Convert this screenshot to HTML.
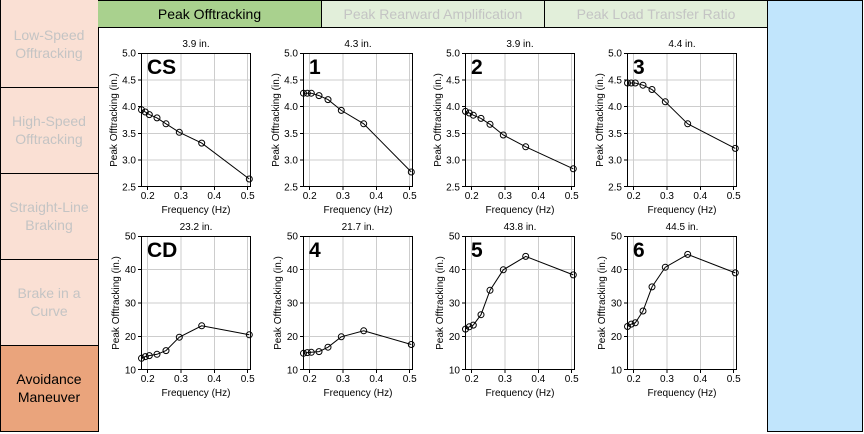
<!DOCTYPE html>
<html><head><meta charset="utf-8"><style>
html,body{margin:0;padding:0;background:#fff;}
svg{display:block;}
text{font-family:"Liberation Sans",Arial,sans-serif;}
.side{font-size:14px;fill:#c4c4c4;text-anchor:middle;}
.tab{font-size:14px;fill:#c4c4c4;text-anchor:middle;}
.tk{font-size:10px;fill:#000;}
.yl{text-anchor:end;}
.xl{text-anchor:middle;}
.big{font-size:21px;font-weight:bold;fill:#000;}
.grid{stroke:#cdcdcd;stroke-width:1;fill:none;shape-rendering:crispEdges;}
.frame{stroke:#000;stroke-width:1;fill:none;shape-rendering:crispEdges;}
.ser{stroke:#000;stroke-width:1;fill:none;}
.mk circle{stroke:#000;stroke-width:1;fill:none;}
</style></head><body>
<svg width="864" height="434" viewBox="0 0 864 434" xmlns="http://www.w3.org/2000/svg">
<defs>
<path id="g1" d="M6.7 0V134M40 0V134M73.3 0V134M106.7 0V134M0 26.8H110M0 53.6H110M0 80.4H110M0 107.2H110"/>
<path id="g2" d="M6.7 0V134M40 0V134M73.3 0V134M106.7 0V134M0 33.5H110M0 67H110M0 100.5H110"/>
<path id="t1" d="M-3 0.5H0M-3 26.8H0M-3 53.6H0M-3 80.4H0M-3 107.2H0M-3 133.5H0M6.7 134V137M40 134V137M73.3 134V137M106.7 134V137"/>
<path id="t2" d="M-3 0.5H0M-3 33.5H0M-3 67H0M-3 100.5H0M-3 133.5H0M6.7 134V137M40 134V137M73.3 134V137M106.7 134V137"/>
</defs>

<!-- sidebar -->
<rect x="0" y="0" width="98" height="345" fill="#fae0d4"/>
<rect x="0" y="345" width="98" height="87" fill="#eaa47c"/>
<path class="frame" d="M0.5 0V432M98.5 0V432M0 87.5H98M0 173.5H98M0 259.5H98M0 345.5H98M0 431.5H98"/>
<text class="side" x="49" y="40">Low-Speed</text>
<text class="side" x="49" y="58">Offtracking</text>
<text class="side" x="49" y="126">High-Speed</text>
<text class="side" x="49" y="144">Offtracking</text>
<text class="side" x="49" y="212">Straight-Line</text>
<text class="side" x="49" y="230">Braking</text>
<text class="side" x="49" y="298">Brake in a</text>
<text class="side" x="49" y="316">Curve</text>
<text class="side" x="49" y="384" style="fill:#000">Avoidance</text>
<text class="side" x="49" y="402" style="fill:#000">Maneuver</text>

<!-- tabs -->
<rect x="98" y="0" width="223" height="27" fill="#a9d18e"/>
<rect x="321" y="0" width="447" height="27" fill="#e2efda"/>
<path class="frame" d="M98 0.5H863M98 27.5H768M321.5 0V27M544.5 0V27"/>
<text class="tab" x="209.5" y="19" style="fill:#000">Peak Offtracking</text>
<text class="tab" x="433" y="19">Peak Rearward Amplification</text>
<text class="tab" x="656" y="19">Peak Load Transfer Ratio</text>

<!-- right blue panel -->
<rect x="767.5" y="0.5" width="95" height="431" fill="#c1e5fc" stroke="#000" stroke-width="1" shape-rendering="crispEdges"/>

<!-- CS -->
<g transform="translate(141,53)">
<use href="#g1" class="grid"/>
<rect class="frame" x="0.5" y="0.5" width="109" height="133"/>
<use href="#t1" class="frame"/>
<text class="big" x="6" y="21">CS</text>
<polyline class="ser" points="0.5,56.8 4.3,59 8.3,61.6 16,64.9 25,70.8 38.3,79.3 60.7,90.1 108.3,126"/>
<g class="mk"><circle cx="0.5" cy="56.8" r="3"/><circle cx="4.3" cy="59" r="3"/><circle cx="8.3" cy="61.6" r="3"/><circle cx="16" cy="64.9" r="3"/><circle cx="25" cy="70.8" r="3"/><circle cx="38.3" cy="79.3" r="3"/><circle cx="60.7" cy="90.1" r="3"/><circle cx="108.3" cy="126" r="3"/></g>
<text class="tk xl" x="55" y="-6">3.9 in.</text>
<text class="tk yl" x="-5" y="3.5">5.0</text><text class="tk yl" x="-5" y="30.3">4.5</text><text class="tk yl" x="-5" y="57.1">4.0</text><text class="tk yl" x="-5" y="83.9">3.5</text><text class="tk yl" x="-5" y="110.7">3.0</text><text class="tk yl" x="-5" y="137.5">2.5</text>
<text class="tk xl" x="6.7" y="146">0.2</text><text class="tk xl" x="40" y="146">0.3</text><text class="tk xl" x="73.3" y="146">0.4</text><text class="tk xl" x="106.7" y="146">0.5</text>
<text class="tk xl" x="55" y="160">Frequency (Hz)</text>
<text class="tk xl" transform="translate(-24,67) rotate(-90)">Peak Offtracking (in.)</text>
</g>

<!-- 1 -->
<g transform="translate(303,53)">
<use href="#g1" class="grid"/>
<rect class="frame" x="0.5" y="0.5" width="109" height="133"/>
<use href="#t1" class="frame"/>
<text class="big" x="6" y="21">1</text>
<polyline class="ser" points="0.5,40.2 4.3,40.2 8.3,40.2 16,42.6 25,46.6 38.3,57.4 60.7,70.8 108.3,119"/>
<g class="mk"><circle cx="0.5" cy="40.2" r="3"/><circle cx="4.3" cy="40.2" r="3"/><circle cx="8.3" cy="40.2" r="3"/><circle cx="16" cy="42.6" r="3"/><circle cx="25" cy="46.6" r="3"/><circle cx="38.3" cy="57.4" r="3"/><circle cx="60.7" cy="70.8" r="3"/><circle cx="108.3" cy="119" r="3"/></g>
<text class="tk xl" x="55" y="-6">4.3 in.</text>
<text class="tk yl" x="-5" y="3.5">5.0</text><text class="tk yl" x="-5" y="30.3">4.5</text><text class="tk yl" x="-5" y="57.1">4.0</text><text class="tk yl" x="-5" y="83.9">3.5</text><text class="tk yl" x="-5" y="110.7">3.0</text><text class="tk yl" x="-5" y="137.5">2.5</text>
<text class="tk xl" x="6.7" y="146">0.2</text><text class="tk xl" x="40" y="146">0.3</text><text class="tk xl" x="73.3" y="146">0.4</text><text class="tk xl" x="106.7" y="146">0.5</text>
<text class="tk xl" x="55" y="160">Frequency (Hz)</text>
<text class="tk xl" transform="translate(-24,67) rotate(-90)">Peak Offtracking (in.)</text>
</g>

<!-- 2 -->
<g transform="translate(465,53)">
<use href="#g1" class="grid"/>
<rect class="frame" x="0.5" y="0.5" width="109" height="133"/>
<use href="#t1" class="frame"/>
<text class="big" x="6" y="21">2</text>
<polyline class="ser" points="0.5,58.4 4.3,60 8.3,62.2 16,65.4 25,71.3 38.3,82 60.7,93.8 108.3,115.8"/>
<g class="mk"><circle cx="0.5" cy="58.4" r="3"/><circle cx="4.3" cy="60" r="3"/><circle cx="8.3" cy="62.2" r="3"/><circle cx="16" cy="65.4" r="3"/><circle cx="25" cy="71.3" r="3"/><circle cx="38.3" cy="82" r="3"/><circle cx="60.7" cy="93.8" r="3"/><circle cx="108.3" cy="115.8" r="3"/></g>
<text class="tk xl" x="55" y="-6">3.9 in.</text>
<text class="tk yl" x="-5" y="3.5">5.0</text><text class="tk yl" x="-5" y="30.3">4.5</text><text class="tk yl" x="-5" y="57.1">4.0</text><text class="tk yl" x="-5" y="83.9">3.5</text><text class="tk yl" x="-5" y="110.7">3.0</text><text class="tk yl" x="-5" y="137.5">2.5</text>
<text class="tk xl" x="6.7" y="146">0.2</text><text class="tk xl" x="40" y="146">0.3</text><text class="tk xl" x="73.3" y="146">0.4</text><text class="tk xl" x="106.7" y="146">0.5</text>
<text class="tk xl" x="55" y="160">Frequency (Hz)</text>
<text class="tk xl" transform="translate(-24,67) rotate(-90)">Peak Offtracking (in.)</text>
</g>

<!-- 3 -->
<g transform="translate(627,53)">
<use href="#g1" class="grid"/>
<rect class="frame" x="0.5" y="0.5" width="109" height="133"/>
<use href="#t1" class="frame"/>
<text class="big" x="6" y="21">3</text>
<polyline class="ser" points="0.5,30 4.3,30 8.3,30 16,32.2 25,36.5 38.3,48.8 60.7,70.8 108.3,95.4"/>
<g class="mk"><circle cx="0.5" cy="30" r="3"/><circle cx="4.3" cy="30" r="3"/><circle cx="8.3" cy="30" r="3"/><circle cx="16" cy="32.2" r="3"/><circle cx="25" cy="36.5" r="3"/><circle cx="38.3" cy="48.8" r="3"/><circle cx="60.7" cy="70.8" r="3"/><circle cx="108.3" cy="95.4" r="3"/></g>
<text class="tk xl" x="55" y="-6">4.4 in.</text>
<text class="tk yl" x="-5" y="3.5">5.0</text><text class="tk yl" x="-5" y="30.3">4.5</text><text class="tk yl" x="-5" y="57.1">4.0</text><text class="tk yl" x="-5" y="83.9">3.5</text><text class="tk yl" x="-5" y="110.7">3.0</text><text class="tk yl" x="-5" y="137.5">2.5</text>
<text class="tk xl" x="6.7" y="146">0.2</text><text class="tk xl" x="40" y="146">0.3</text><text class="tk xl" x="73.3" y="146">0.4</text><text class="tk xl" x="106.7" y="146">0.5</text>
<text class="tk xl" x="55" y="160">Frequency (Hz)</text>
<text class="tk xl" transform="translate(-24,67) rotate(-90)">Peak Offtracking (in.)</text>
</g>

<!-- CD -->
<g transform="translate(141,236)">
<use href="#g2" class="grid"/>
<rect class="frame" x="0.5" y="0.5" width="109" height="133"/>
<use href="#t2" class="frame"/>
<text class="big" x="6" y="21">CD</text>
<polyline class="ser" points="0.5,122.3 4.3,120.6 8.3,119.6 16,118.3 25,114.6 38.3,101.2 60.7,89.8 108.3,98.8"/>
<g class="mk"><circle cx="0.5" cy="122.3" r="3"/><circle cx="4.3" cy="120.6" r="3"/><circle cx="8.3" cy="119.6" r="3"/><circle cx="16" cy="118.3" r="3"/><circle cx="25" cy="114.6" r="3"/><circle cx="38.3" cy="101.2" r="3"/><circle cx="60.7" cy="89.8" r="3"/><circle cx="108.3" cy="98.8" r="3"/></g>
<text class="tk xl" x="55" y="-6">23.2 in.</text>
<text class="tk yl" x="-5" y="3.5">50</text><text class="tk yl" x="-5" y="37">40</text><text class="tk yl" x="-5" y="70.5">30</text><text class="tk yl" x="-5" y="104">20</text><text class="tk yl" x="-5" y="137.5">10</text>
<text class="tk xl" x="6.7" y="146">0.2</text><text class="tk xl" x="40" y="146">0.3</text><text class="tk xl" x="73.3" y="146">0.4</text><text class="tk xl" x="106.7" y="146">0.5</text>
<text class="tk xl" x="55" y="160">Frequency (Hz)</text>
<text class="tk xl" transform="translate(-22,67) rotate(-90)">Peak Offtracking (in.)</text>
</g>

<!-- 4 -->
<g transform="translate(303,236)">
<use href="#g2" class="grid"/>
<rect class="frame" x="0.5" y="0.5" width="109" height="133"/>
<use href="#t2" class="frame"/>
<text class="big" x="6" y="21">4</text>
<polyline class="ser" points="0.5,117.3 4.3,116.6 8.3,116.3 16,115.6 25,111.2 38.3,100.8 60.7,94.8 108.3,108.5"/>
<g class="mk"><circle cx="0.5" cy="117.3" r="3"/><circle cx="4.3" cy="116.6" r="3"/><circle cx="8.3" cy="116.3" r="3"/><circle cx="16" cy="115.6" r="3"/><circle cx="25" cy="111.2" r="3"/><circle cx="38.3" cy="100.8" r="3"/><circle cx="60.7" cy="94.8" r="3"/><circle cx="108.3" cy="108.5" r="3"/></g>
<text class="tk xl" x="55" y="-6">21.7 in.</text>
<text class="tk yl" x="-5" y="3.5">50</text><text class="tk yl" x="-5" y="37">40</text><text class="tk yl" x="-5" y="70.5">30</text><text class="tk yl" x="-5" y="104">20</text><text class="tk yl" x="-5" y="137.5">10</text>
<text class="tk xl" x="6.7" y="146">0.2</text><text class="tk xl" x="40" y="146">0.3</text><text class="tk xl" x="73.3" y="146">0.4</text><text class="tk xl" x="106.7" y="146">0.5</text>
<text class="tk xl" x="55" y="160">Frequency (Hz)</text>
<text class="tk xl" transform="translate(-22,67) rotate(-90)">Peak Offtracking (in.)</text>
</g>

<!-- 5 -->
<g transform="translate(465,236)">
<use href="#g2" class="grid"/>
<rect class="frame" x="0.5" y="0.5" width="109" height="133"/>
<use href="#t2" class="frame"/>
<text class="big" x="6" y="21">5</text>
<polyline class="ser" points="0.5,93.1 4.3,90.8 8.3,89.1 16,78.7 25,54.3 38.3,33.8 60.7,20.4 108.3,38.9"/>
<g class="mk"><circle cx="0.5" cy="93.1" r="3"/><circle cx="4.3" cy="90.8" r="3"/><circle cx="8.3" cy="89.1" r="3"/><circle cx="16" cy="78.7" r="3"/><circle cx="25" cy="54.3" r="3"/><circle cx="38.3" cy="33.8" r="3"/><circle cx="60.7" cy="20.4" r="3"/><circle cx="108.3" cy="38.9" r="3"/></g>
<text class="tk xl" x="55" y="-6">43.8 in.</text>
<text class="tk yl" x="-5" y="3.5">50</text><text class="tk yl" x="-5" y="37">40</text><text class="tk yl" x="-5" y="70.5">30</text><text class="tk yl" x="-5" y="104">20</text><text class="tk yl" x="-5" y="137.5">10</text>
<text class="tk xl" x="6.7" y="146">0.2</text><text class="tk xl" x="40" y="146">0.3</text><text class="tk xl" x="73.3" y="146">0.4</text><text class="tk xl" x="106.7" y="146">0.5</text>
<text class="tk xl" x="55" y="160">Frequency (Hz)</text>
<text class="tk xl" transform="translate(-22,67) rotate(-90)">Peak Offtracking (in.)</text>
</g>

<!-- 6 -->
<g transform="translate(627,236)">
<use href="#g2" class="grid"/>
<rect class="frame" x="0.5" y="0.5" width="109" height="133"/>
<use href="#t2" class="frame"/>
<text class="big" x="6" y="21">6</text>
<polyline class="ser" points="0.5,90.5 4.3,88.1 8.3,86.8 16,75 25,50.9 38.3,31.2 60.7,18.4 108.3,36.9"/>
<g class="mk"><circle cx="0.5" cy="90.5" r="3"/><circle cx="4.3" cy="88.1" r="3"/><circle cx="8.3" cy="86.8" r="3"/><circle cx="16" cy="75" r="3"/><circle cx="25" cy="50.9" r="3"/><circle cx="38.3" cy="31.2" r="3"/><circle cx="60.7" cy="18.4" r="3"/><circle cx="108.3" cy="36.9" r="3"/></g>
<text class="tk xl" x="55" y="-6">44.5 in.</text>
<text class="tk yl" x="-5" y="3.5">50</text><text class="tk yl" x="-5" y="37">40</text><text class="tk yl" x="-5" y="70.5">30</text><text class="tk yl" x="-5" y="104">20</text><text class="tk yl" x="-5" y="137.5">10</text>
<text class="tk xl" x="6.7" y="146">0.2</text><text class="tk xl" x="40" y="146">0.3</text><text class="tk xl" x="73.3" y="146">0.4</text><text class="tk xl" x="106.7" y="146">0.5</text>
<text class="tk xl" x="55" y="160">Frequency (Hz)</text>
<text class="tk xl" transform="translate(-22,67) rotate(-90)">Peak Offtracking (in.)</text>
</g>
</svg>
</body></html>
